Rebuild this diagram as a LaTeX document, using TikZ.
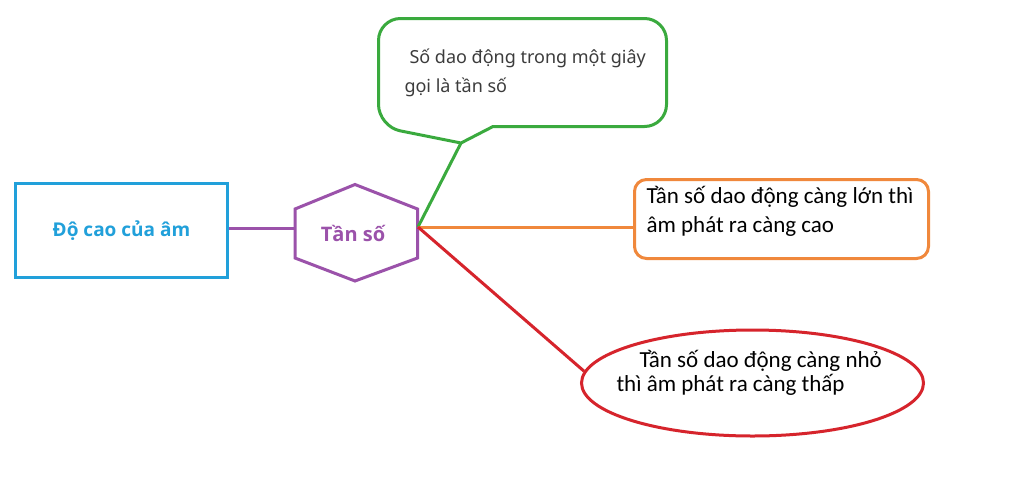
\documentclass[tikz,border=0pt]{standalone}
\usepackage{fontspec}
\setmainfont{Carlito}
\newfontfamily\opensans{Open Sans}
\newfontfamily\notosans{Noto Sans}
\usetikzlibrary{shapes.geometric,positioning}
\definecolor{pitchblue}{RGB}{33,160,218}
\definecolor{freqpurple}{RGB}{155,82,170}
\definecolor{defgreen}{RGB}{58,170,62}
\definecolor{deftext}{RGB}{60,60,60}
\definecolor{highorange}{RGB}{240,136,60}
\definecolor{lowred}{RGB}{214,36,44}

\begin{document}
\begin{tikzpicture}[x=1pt, y=-1pt, line width=3pt, inner sep=0pt,
  note/.style={anchor=base west, font=\fontsize{23}{28}\selectfont},
  defnote/.style={anchor=base west, text=deftext, font=\notosans\fontsize{18}{22}\selectfont}]
\useasboundingbox[fill=white] (0,0) rectangle (1024,501);

% Nodes
\node[draw=pitchblue, line width=3.5pt, minimum width=212pt, minimum height=94pt,
      text=pitchblue, font=\opensans\bfseries\fontsize{19}{23}\selectfont] (pitch) at (121.5,230.5) {Độ cao của âm};

\node[text=freqpurple, font=\opensans\bfseries\fontsize{20}{24}\selectfont] (freq) at (353,233) {Tần số};
\draw[freqpurple] (355,184.5) -- (417.5,209) -- (417.5,258) -- (355,281) -- (295,258) -- (295,209) -- cycle;
\coordinate (freqL) at (295,228);
\coordinate (freqR) at (418,227);

% speech bubble
\coordinate (tip) at (461,143);
\draw[defgreen, line cap=round] (tip) -- (493,126.5) [rounded corners=22pt] -- (666.5,126.5) -- (666.5,18.5)
   -- (378.5,18.5) -- (378.5,126.5) -- (tip);
\node[defnote] (def1) at (408,63) {Số dao động trong một giây};
\node[defnote] (def2) at (403,92) {gọi là tần số};

\node[draw=highorange, rounded corners=12pt, minimum width=294pt, minimum height=79pt] (high) at (781.5,219) {};
\node[note] (high1) at (645,203) {Tần số dao động càng lớn thì};
\node[note] (high2) at (645,232) {âm phát ra càng cao};

\node[draw=lowred, ellipse, minimum width=342pt, minimum height=106pt] (low) at (752.5,383) {};
\node[note] (low1) at (638,367) {Tần số dao động càng nhỏ};
\node[note] (low2) at (615,391) {thì âm phát ra càng thấp};

% Connectors
\draw[freqpurple] (freqL -| pitch.east) -- (freqL);
\draw[defgreen] (freqR) -- (tip);
\draw[highorange] (freqR) -- (freqR -| high.west);
\draw[lowred] (freqR) -- (low.176);
\end{tikzpicture}
\end{document}
